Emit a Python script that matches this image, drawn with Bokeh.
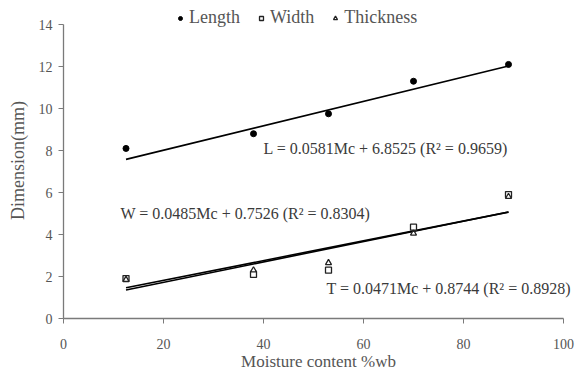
from bokeh.plotting import figure
from bokeh.models import ColumnDataSource, Legend, LegendItem, FixedTicker, Range1d
from bokeh.core.properties import value
from bokeh.embed import file_html
from bokeh.resources import INLINE

# Measured dimensions of the seed at five moisture levels
moisture = [12.5, 38.0, 53.0, 70.0, 89.0]
length = [8.1, 8.8, 9.75, 11.3, 12.1]
width = [1.9, 2.1, 2.3, 4.35, 5.9]
thickness = [1.85, 2.3, 2.65, 4.05, 5.8]

# Linear fits: slope, intercept, R^2
fits = {
    "L": (0.0581, 6.8525, 0.9659),
    "W": (0.0485, 0.7526, 0.8304),
    "T": (0.0471, 0.8744, 0.8928),
}
fit_x = [12.5, 89.0]

# Equation label anchors (data units)
label_x = [40.0, 11.4, 52.6]
label_y = [8.1, 5.0, 1.45]

x_ticks = [0, 20, 40, 60, 80, 100]
y_ticks = [0, 2, 4, 6, 8, 10, 12, 14]

FONT = "Liberation Serif"
TEXT = "#3a3a3a"
AXIS = "#7a7a7a"

# The frame reaches a little past the axes' ends so the legend and the
# equation labels have room; the axis lines themselves stop at 100 and 14.
p = figure(width=575, height=373, output_backend="svg", toolbar_location=None,
           x_range=Range1d(0, 102.0), y_range=Range1d(0, 15.05),
           min_border_left=63, min_border_right=2, min_border_top=2,
           min_border_bottom=55)
p.outline_line_color = None
p.grid.grid_line_color = None
p.background_fill_color = "white"

for ax, ticks in ((p.xaxis, x_ticks), (p.yaxis, y_ticks)):
    ax.ticker = FixedTicker(ticks=ticks)
    ax.minor_tick_line_color = None
    ax.major_tick_in = 0
    ax.major_tick_out = 5
    ax.axis_line_color = AXIS
    ax.major_tick_line_color = AXIS
    ax.axis_line_width = 1.3
    ax.major_label_text_font = FONT
    ax.major_label_text_font_size = "14px"
    ax.major_label_text_color = "#555555"
    ax.axis_label_text_font = FONT
    ax.axis_label_text_font_size = "17px"
    ax.axis_label_text_font_style = "normal"
    ax.axis_label_text_color = "#555555"

p.xaxis.bounds = (0, 100)
p.yaxis.bounds = (0, 14)
p.xaxis.axis_label = "Moisture content %wb"
p.yaxis.axis_label = "Dimension(mm)"
p.yaxis.axis_label_text_font_size = "18px"
p.xaxis.major_label_standoff = 15
p.xaxis.axis_label_standoff = 0
p.yaxis.major_label_standoff = 6
p.yaxis.axis_label_standoff = 8

# Regression lines
for key in ("L", "W", "T"):
    m, b, _ = fits[key]
    p.line(fit_x, [m * x + b for x in fit_x], line_color="black", line_width=1.6)

src = ColumnDataSource(dict(x=moisture, L=length, W=width, T=thickness))
r_len = p.scatter("x", "L", source=src, marker="circle", size=6,
                  fill_color="black", line_color="black")
r_wid = p.scatter("x", "W", source=src, marker="square", size=6,
                  fill_color="white", line_color="#222222", line_width=1.3)
r_thk = p.scatter("x", "T", source=src, marker="triangle", size=6,
                  fill_color="white", line_color="#222222", line_width=1.3)

labels = []
for key in ("L", "W", "T"):
    m, b, r2 = fits[key]
    labels.append(f"{key} = {m:.4f}Mc + {b:.4f} (R\u00b2 = {r2:.4f})")
p.text(x=label_x, y=label_y, text=labels, text_font=value(FONT),
       text_font_size="16px", text_color=TEXT, text_baseline="middle",
       text_align="left")

legend = Legend(items=[LegendItem(label="Length", renderers=[r_len]),
                       LegendItem(label="Width", renderers=[r_wid]),
                       LegendItem(label="Thickness", renderers=[r_thk])],
                orientation="horizontal", location=(112, 290),
                label_text_font=FONT, label_text_font_size="18px",
                label_text_color="#555555", glyph_width=10, glyph_height=10,
                label_standoff=4, spacing=16, padding=0, margin=0,
                border_line_color=None, background_fill_alpha=0)
p.add_layout(legend, "center")

open("out.html", "w").write(file_html(p, INLINE))
